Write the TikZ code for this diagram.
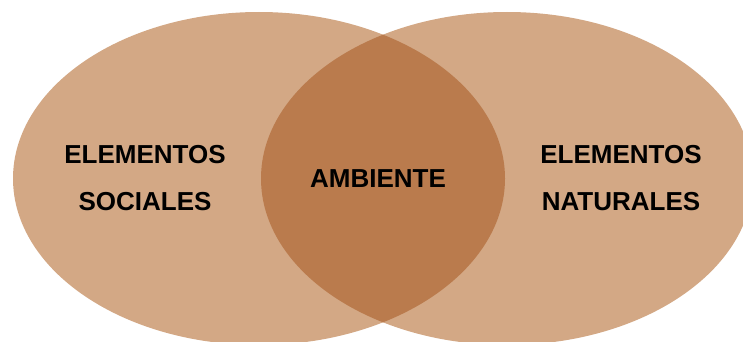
\documentclass[tikz,border=0pt]{standalone}
\usepackage{fontspec}
\setmainfont{Liberation Sans}
\definecolor{tan}{RGB}{211,168,133}
\definecolor{rust}{RGB}{186,123,77}

\begin{document}
\begin{tikzpicture}[x=1pt,y=1pt,
  set/.style={fill=tan},
  common/.style={fill=rust},
  lbl/.style={anchor=base,inner sep=0pt,font=\fontsize{26}{30}\selectfont\bfseries}]
\useasboundingbox (0,0) rectangle (743,341);
\fill[set](259,162.5) ellipse [x radius=246,y radius=166.5];
\fill[set](507,162.5) ellipse [x radius=246,y radius=166.5];
\begin{scope}
\clip (259,162.5) ellipse [x radius=246,y radius=166.5];
\fill[common](507,162.5) ellipse [x radius=246,y radius=166.5];
\end{scope}
\node[lbl] (soc1) at (145,178) {ELEMENTOS};
\node[lbl] (soc2) at (145,131) {SOCIALES};
\node[lbl] (amb) at (378,154) {AMBIENTE};
\node[lbl] (nat1) at (621,178) {ELEMENTOS};
\node[lbl] (nat2) at (621,131) {NATURALES};
\end{tikzpicture}
\end{document}
